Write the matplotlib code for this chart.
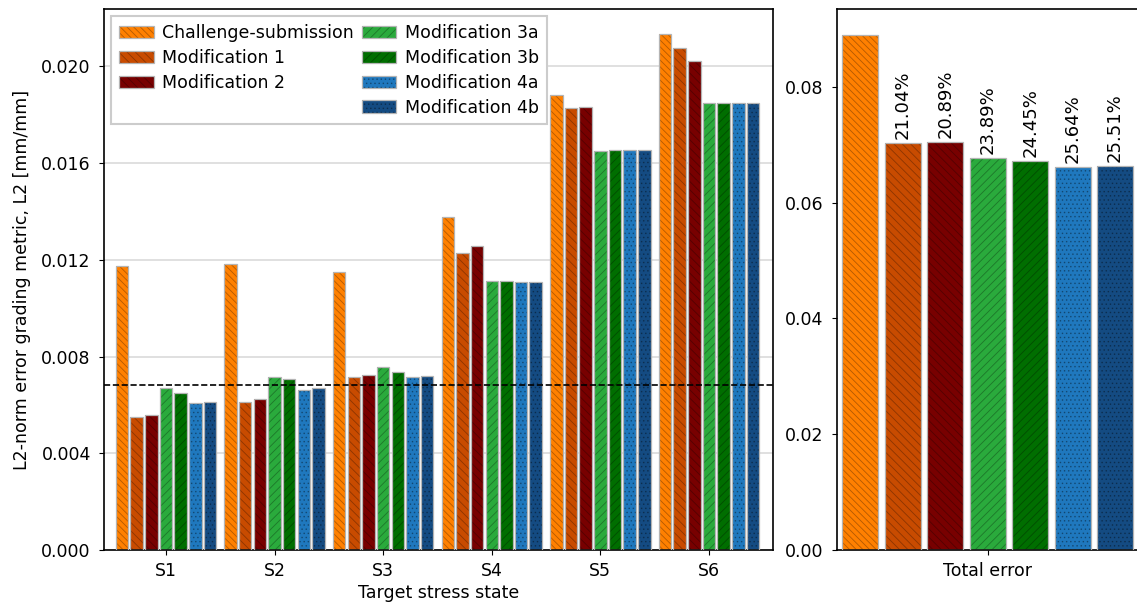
import matplotlib
matplotlib.use("Agg")
import matplotlib.pyplot as plt
from matplotlib.patches import Patch
import numpy as np

plt.rcParams["font.family"] = ["DejaVu Sans"]
plt.rcParams["font.size"] = 12.5
plt.rcParams["xtick.labelsize"] = 12.5
plt.rcParams["ytick.labelsize"] = 12.5
plt.rcParams["ytick.major.pad"] = 6
plt.rcParams["xtick.major.pad"] = 5
plt.rcParams["hatch.linewidth"] = 0.6

# data
states = ["S1", "S2", "S3", "S4", "S5", "S6"]
series_names = ["Challenge-submission", "Modification 1", "Modification 2",
                "Modification 3a", "Modification 3b", "Modification 4a",
                "Modification 4b"]
challenge = [0.01175, 0.01181, 0.01151, 0.01379, 0.01880, 0.02132]
mod1 = [0.00549, 0.00614, 0.00717, 0.01230, 0.01826, 0.02074]
mod2 = [0.00559, 0.00624, 0.00723, 0.01259, 0.01833, 0.02023]
mod3a = [0.00668, 0.00717, 0.00756, 0.01114, 0.01649, 0.01849]
mod3b = [0.00651, 0.00705, 0.00734, 0.01114, 0.01655, 0.01848]
mod4a = [0.00607, 0.00662, 0.00717, 0.01110, 0.01652, 0.01848]
mod4b = [0.00611, 0.00668, 0.00719, 0.01110, 0.01655, 0.01848]
threshold = 0.00682

totals = [0.0890, 0.07027, 0.07041, 0.06774, 0.06724, 0.06618, 0.06630]
reduction_labels = ["", "21.04%", "20.89%", "23.89%", "24.45%", "25.64%", "25.51%"]

colors = ["#ff8000", "#c84b00", "#780000", "#2aaa3c", "#006e00", "#1f78be", "#144b82"]
hatches = ["\\\\\\\\\\", "\\\\\\\\", "\\\\\\\\", "////", "////", "....", "...."]
hatch_col = (0, 0, 0, 0.3)
outline_col = "#b4b4b4"

all_series = [challenge, mod1, mod2, mod3a, mod3b, mod4a, mod4b]
step = 0.135
width = 0.115


def draw_bar(ax, x, h, i):
    ax.bar(x, h, width, color=colors[i], hatch=hatches[i], edgecolor=hatch_col,
           linewidth=0, zorder=2)
    ax.bar(x, h, width, fill=False, edgecolor=outline_col, linewidth=0.9, zorder=3)


def main() -> None:
    fig = plt.figure(figsize=(11.37, 6.13), dpi=100)
    ax = fig.add_axes([0.0915, 0.1028, 0.5884, 0.8825])
    ax2 = fig.add_axes([0.7359, 0.1028, 0.2656, 0.8825])

    x = np.arange(len(states))
    for i, vals in enumerate(all_series):
        draw_bar(ax, x + (i - 3) * step, vals, i)

    ax.axhline(threshold, color="black", linestyle="--", linewidth=1.2, zorder=4)
    ax.set_xticks(x)
    ax.set_xticklabels(states)
    ax.set_xlim(-0.57, 5.59)
    ax.set_ylim(0, 0.02237)
    ax.set_yticks(np.arange(0, 0.0201, 0.004))
    ax.yaxis.set_major_formatter(matplotlib.ticker.FormatStrFormatter("%.3f"))
    ax.yaxis.grid(True, color="#e0e0e0", linewidth=1.4, zorder=0)
    ax.set_axisbelow(True)
    ax.set_xlabel("Target stress state", labelpad=3)
    ax.set_ylabel("L2-norm error grading metric, L2 [mm/mm]", labelpad=7)

    handles = []
    labels = []
    for i, name in enumerate(series_names):
        if i == 3:
            handles.append(Patch(visible=False))
            labels.append("")
        fill = Patch(facecolor=colors[i], hatch=hatches[i], edgecolor=hatch_col, linewidth=0)
        edge = Patch(fill=False, edgecolor=outline_col, linewidth=0.9)
        handles.append((fill, edge))
        labels.append(name)
    leg = ax.legend(handles, labels, ncol=2, loc="upper left", fancybox=False,
                    framealpha=1, edgecolor="#cccccc", columnspacing=0.45,
                    handlelength=2.0, handletextpad=0.5, labelspacing=0.4,
                    borderpad=0.45, borderaxespad=0.4)
    leg.get_frame().set_linewidth(1.5)

    for i, tot in enumerate(totals):
        xi = (i - 3) * step
        draw_bar(ax2, xi, tot, i)
        if reduction_labels[i]:
            ax2.annotate(reduction_labels[i], (xi, tot), xytext=(0, 3),
                         textcoords="offset points", rotation=90,
                         ha="center", va="bottom", fontsize=13)
    ax2.set_xlim(-0.48, 0.48)
    ax2.set_ylim(0, 0.09345)
    ax2.set_xticks([0])
    ax2.set_xticklabels(["Total error"])
    ax2.set_yticks(np.arange(0, 0.081, 0.02))
    ax2.yaxis.set_major_formatter(matplotlib.ticker.FormatStrFormatter("%.2f"))

    for a in (ax, ax2):
        for s in a.spines.values():
            s.set_linewidth(1.2)

    fig.savefig("out.png", dpi=100)


if __name__ == "__main__":
    main()
